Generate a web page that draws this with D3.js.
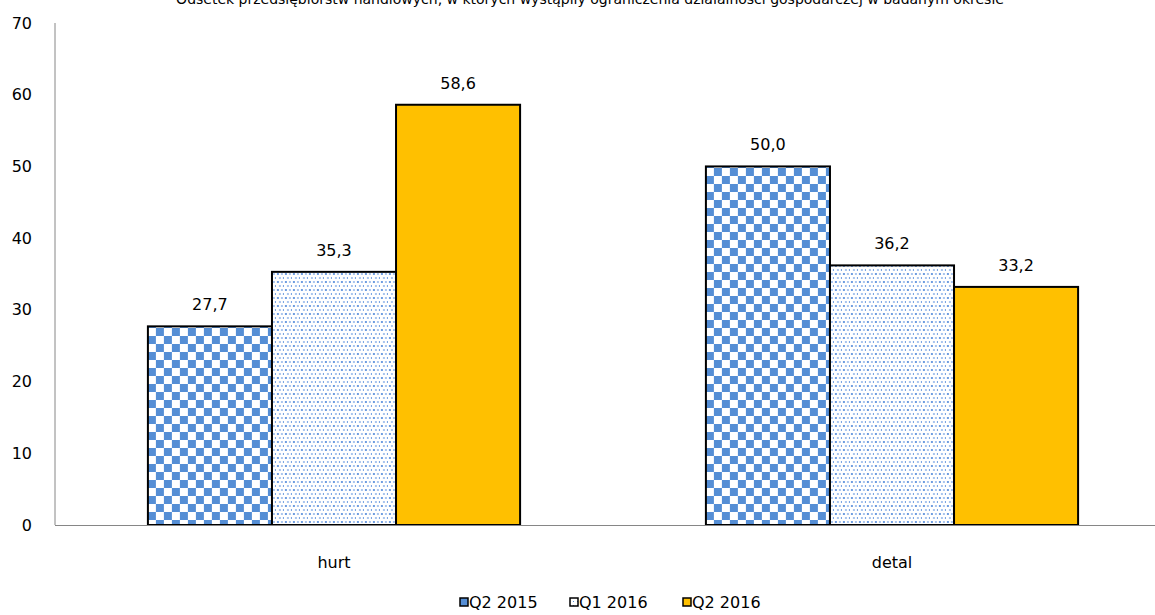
<!DOCTYPE html>
<html>
<head>
<meta charset="utf-8">
<script src="https://cdn.jsdelivr.net/npm/d3@7"></script>
<style>
  body { margin: 0; background: #fff; }
  svg { display: block; font-family: "DejaVu Sans", Verdana, sans-serif; }
</style>
</head>
<body>
<svg id="chart" width="1155" height="615"></svg>
<script>
// data
const categories = ['hurt', 'detal'];
const seriesNames = ['Q2 2015', 'Q1 2016', 'Q2 2016'];
const q2_2015 = [27.7, 50.0];
const q1_2016 = [35.3, 36.2];
const q2_2016 = [58.6, 33.2];
const yTicks = [0, 10, 20, 30, 40, 50, 60, 70];
const title = 'Odsetek przedsiębiorstw handlowych, w których wystąpiły ograniczenia działalności gospodarczej w badanym okresie';

const seriesValues = [q2_2015, q1_2016, q2_2016];
const fills = ['url(#checker)', 'url(#dots)', '#FFC000'];

const W = 1155, H = 615;
const margin = {left: 55, top: 23, bottom: 90};
const svg = d3.select('#chart');

// patterns
const defs = svg.append('defs');
const checker = defs.append('pattern')
    .attr('id', 'checker')
    .attr('patternUnits', 'userSpaceOnUse')
    .attr('width', 16).attr('height', 16);
checker.append('rect').attr('width', 16).attr('height', 16).attr('fill', '#fff');
checker.append('rect').attr('width', 8).attr('height', 8).attr('fill', '#558ED5');
checker.append('rect').attr('x', 8).attr('y', 8).attr('width', 8).attr('height', 8).attr('fill', '#558ED5');

const dots = defs.append('pattern')
    .attr('id', 'dots')
    .attr('patternUnits', 'userSpaceOnUse')
    .attr('width', 8).attr('height', 8);
dots.append('rect').attr('width', 8).attr('height', 8).attr('fill', '#fff');
[[1, 1, '#6f9de0'], [5, 1, '#a9c5ee'], [3, 5, '#a9c5ee'], [7, 5, '#6f9de0']].forEach(([x, y, c]) => {
    dots.append('rect').attr('x', x).attr('y', y).attr('width', 2).attr('height', 2).attr('fill', c);
});

// small legend pattern
const dotsSmall = defs.append('pattern')
    .attr('id', 'dotsSmall')
    .attr('patternUnits', 'userSpaceOnUse')
    .attr('width', 4).attr('height', 4);
dotsSmall.append('rect').attr('width', 4).attr('height', 4).attr('fill', '#fff');
dotsSmall.append('rect').attr('x', 1).attr('y', 1).attr('width', 1).attr('height', 1).attr('fill', '#558ED5');

// scales
const step = 558;
const x0 = d3.scaleBand()
    .domain(categories)
    .range([margin.left, margin.left + step * categories.length])
    .paddingInner(0.333)
    .paddingOuter(0.1665);
const x1 = d3.scaleBand()
    .domain(seriesNames)
    .range([0, x0.bandwidth()]);
const y = d3.scaleLinear()
    .domain([0, 70])
    .range([525, margin.top]);

// title (clipped at the top like the original)
svg.append('text')
    .attr('x', 590).attr('y', 4)
    .attr('text-anchor', 'middle')
    .attr('font-size', 14)
    .attr('fill', '#000')
    .text(title);

// y axis labels
svg.append('g').selectAll('text')
    .data(yTicks)
    .enter().append('text')
    .attr('x', 32)
    .attr('y', d => y(d))
    .attr('dy', '0.35em')
    .attr('text-anchor', 'end')
    .attr('font-size', 16)
    .attr('fill', '#000')
    .text(d => d);

// bars
categories.forEach((cat, ci) => {
    const g = svg.append('g').attr('transform', `translate(${x0(cat)},0)`);
    seriesNames.forEach((s, si) => {
        const v = seriesValues[si][ci];
        g.append('rect')
            .attr('x', x1(s))
            .attr('y', y(v))
            .attr('width', x1.bandwidth())
            .attr('height', y(0) - y(v))
            .attr('fill', fills[si])
            .attr('stroke', '#000')
            .attr('stroke-width', 2);
        g.append('text')
            .attr('x', x1(s) + x1.bandwidth() / 2)
            .attr('y', y(v) - 16)
            .attr('text-anchor', 'middle')
            .attr('font-size', 16)
            .attr('fill', '#000')
            .text(d3.format('.1f')(v).replace('.', ','));
    });
});

// axis lines
svg.append('line')
    .attr('x1', margin.left).attr('x2', margin.left)
    .attr('y1', y(70)).attr('y2', y(0))
    .attr('stroke', '#868686').attr('stroke-width', 1);
svg.append('line')
    .attr('x1', margin.left).attr('x2', W)
    .attr('y1', y(0) + 0.5).attr('y2', y(0) + 0.5)
    .attr('stroke', '#868686').attr('stroke-width', 1);

// category labels
svg.append('g').selectAll('text')
    .data(categories)
    .enter().append('text')
    .attr('x', d => x0(d) + x0.bandwidth() / 2)
    .attr('y', 568)
    .attr('text-anchor', 'middle')
    .attr('font-size', 16)
    .attr('fill', '#000')
    .text(d => d);

// legend
const legendX = [459, 569, 682];
const legendFills = ['#558ED5', 'url(#dotsSmall)', '#FFC000'];
const legend = svg.append('g');
seriesNames.forEach((s, i) => {
    legend.append('rect')
        .attr('x', legendX[i] + 1).attr('y', 598)
        .attr('width', 8).attr('height', 8)
        .attr('fill', legendFills[i])
        .attr('stroke', '#000').attr('stroke-width', 1.5);
    legend.append('text')
        .attr('x', legendX[i] + 10)
        .attr('y', 602)
        .attr('dy', '0.35em')
        .attr('font-size', 16)
        .attr('fill', '#000')
        .text(s);
});
</script>
</body>
</html>
